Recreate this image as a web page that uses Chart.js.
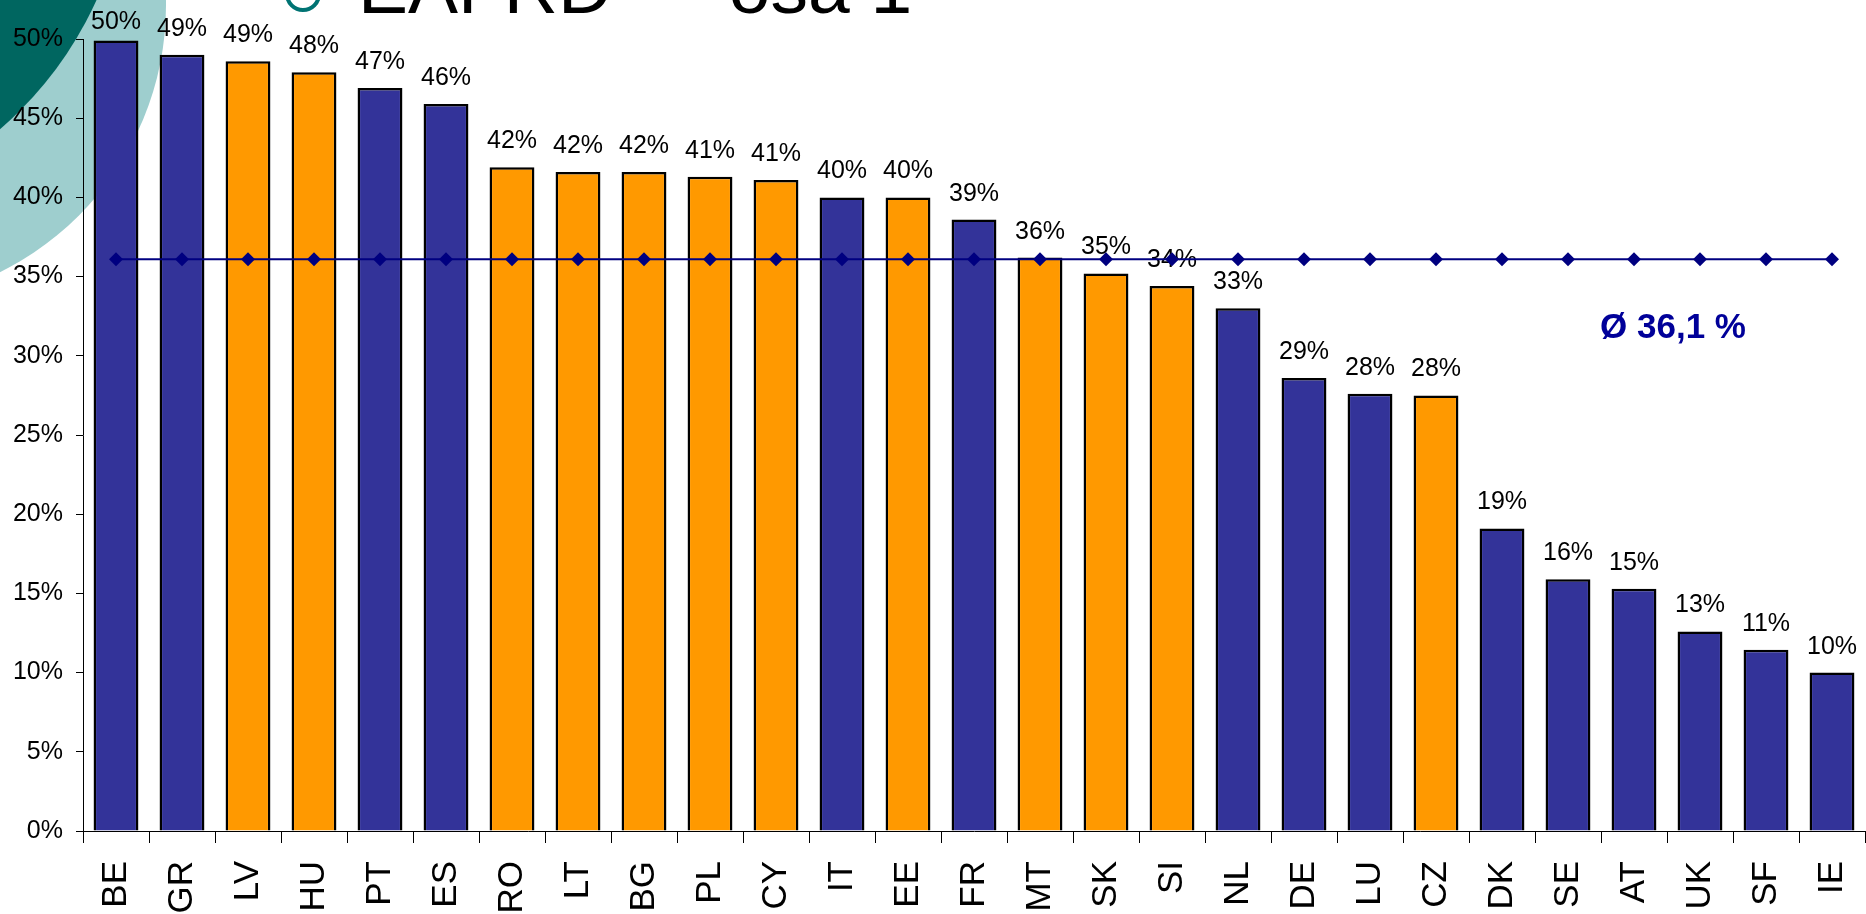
<!DOCTYPE html>
<html>
<head>
<meta charset="utf-8">
<script src="https://cdn.jsdelivr.net/npm/chart.js@4.4.1/dist/chart.umd.min.js"></script>
<style>
  html, body { margin: 0; padding: 0; background: #ffffff; overflow: hidden; }
  #wrap { width: 1866px; height: 914px; position: relative; }
</style>
</head>
<body>
<div id="wrap"><canvas id="c" width="1866" height="914"></canvas></div>
<script>
// ---- data ----
const categories = ['BE','GR','LV','HU','PT','ES','RO','LT','BG','PL','CY','IT','EE','FR','MT','SK','SI','NL','DE','LU','CZ','DK','SE','AT','UK','SF','IE'];
const shareValues = [49.9, 49.0, 48.6, 47.9, 46.9, 45.9, 41.9, 41.6, 41.6, 41.3, 41.1, 40.0, 40.0, 38.6, 36.2, 35.2, 34.4, 33.0, 28.6, 27.6, 27.5, 19.1, 15.9, 15.3, 12.6, 11.45, 10.0];
const memberGroup = ['EU15','EU15','EU12','EU12','EU15','EU15','EU12','EU12','EU12','EU12','EU12','EU15','EU12','EU15','EU12','EU12','EU12','EU15','EU15','EU15','EU12','EU15','EU15','EU15','EU15','EU15','EU15'];
const averageValue = 36.1;
const averageSeries = [36.1, 36.1, 36.1, 36.1, 36.1, 36.1, 36.1, 36.1, 36.1, 36.1, 36.1, 36.1, 36.1, 36.1, 36.1, 36.1, 36.1, 36.1, 36.1, 36.1, 36.1, 36.1, 36.1, 36.1, 36.1, 36.1, 36.1];
const yTickValues = [0, 5, 10, 15, 20, 25, 30, 35, 40, 45, 50];
const titleText = 'EAFRD \u2014 osa 1';
const averageText = '\u00D8 ' + averageValue.toFixed(1).replace('.', ',') + ' %';

// ---- styles ----
const FONT = '"Liberation Sans", Arial, sans-serif';
const groupColors = { EU15: '#333399', EU12: '#FF9900' };

const backgroundPlugin = {
  id: 'bgDecor',
  beforeDraw(chart) {
    const ctx = chart.ctx;
    ctx.save();
    ctx.fillStyle = '#ffffff';
    ctx.fillRect(0, 0, chart.width, chart.height);
    ctx.fillStyle = '#9ECECE';
    ctx.beginPath();
    ctx.arc(-132, 5, 298, 0, Math.PI * 2);
    ctx.fill();
    ctx.fillStyle = '#006660';
    ctx.beginPath();
    ctx.arc(-246, -155, 376, 0, Math.PI * 2);
    ctx.fill();
    // title bullet ring
    ctx.strokeStyle = '#007373';
    ctx.lineWidth = 4;
    ctx.beginPath();
    ctx.arc(303, -6, 16, 0, Math.PI * 2);
    ctx.stroke();
    // title text
    ctx.fillStyle = '#000000';
    ctx.font = '75px ' + FONT;
    ctx.textAlign = 'left';
    ctx.textBaseline = 'alphabetic';
    ctx.fillText(titleText, 358, 13);
    ctx.restore();
  }
};

const barLabelPlugin = {
  id: 'barLabels',
  afterDatasetDraw(chart, args) {
    if (args.index !== 0) return;
    const ctx = chart.ctx;
    const meta = args.meta;
    ctx.save();
    ctx.fillStyle = '#000000';
    ctx.font = '25px ' + FONT;
    ctx.textAlign = 'center';
    ctx.textBaseline = 'alphabetic';
    meta.data.forEach((bar, i) => {
      const v = chart.data.datasets[0].data[i];
      ctx.fillText(Math.round(v) + '%', bar.x, Math.max(bar.y - 19, 29));
    });
    ctx.restore();
  },
  afterDraw(chart) {
    const ctx = chart.ctx;
    ctx.save();
    ctx.fillStyle = '#000099';
    ctx.font = 'bold 35px ' + FONT;
    ctx.textAlign = 'center';
    ctx.textBaseline = 'alphabetic';
    ctx.fillText(averageText, 1673, 338);
    ctx.restore();
  }
};

new Chart(document.getElementById('c'), {
  data: {
    labels: categories,
    datasets: [
      {
        type: 'bar',
        data: shareValues,
        backgroundColor: memberGroup.map(g => groupColors[g]),
        borderColor: '#000000',
        borderWidth: 2.5,
        barPercentage: 0.68,
        categoryPercentage: 1.0,
        order: 1
      },
      {
        type: 'line',
        data: averageSeries,
        borderColor: '#000080',
        borderWidth: 2,
        pointStyle: 'rectRot',
        pointRadius: 7,
        pointBackgroundColor: '#000080',
        pointBorderColor: '#000080',
        pointBorderWidth: 0,
        fill: false,
        tension: 0,
        clip: false,
        order: 0
      }
    ]
  },
  options: {
    responsive: false,
    animation: false,
    devicePixelRatio: 1,
    layout: { autoPadding: false, padding: { top: 39, right: 1, left: 0, bottom: 0 } },
    plugins: {
      legend: { display: false },
      tooltip: { enabled: false },
      title: { display: false }
    },
    scales: {
      x: {
        type: 'category',
        offset: true,
        afterFit(scale) { scale.height = 83; scale.paddingLeft = 0; scale.paddingRight = 0; },
        grid: { offset: true, drawOnChartArea: false, drawTicks: true, tickLength: 12, color: '#000000', lineWidth: 1 },
        border: { display: true, color: '#000000', width: 1 },
        ticks: {
          autoSkip: false,
          minRotation: 90,
          maxRotation: 90,
          padding: 18,
          color: '#000000',
          font: { family: FONT, size: 35 }
        }
      },
      y: {
        min: 0,
        max: 50,
        afterFit(scale) { scale.width = 83; scale.paddingTop = 0; scale.paddingBottom = 0; },
        afterBuildTicks(scale) { scale.ticks = yTickValues.map(v => ({ value: v })); },
        grid: { drawOnChartArea: false, drawTicks: true, tickLength: 7, color: '#000000', lineWidth: 1 },
        border: { display: true, color: '#000000', width: 1 },
        ticks: {
          padding: 13,
          color: '#000000',
          font: { family: FONT, size: 25 },
          callback: v => v + '%'
        }
      }
    }
  },
  plugins: [backgroundPlugin, barLabelPlugin]
});
</script>
</body>
</html>
